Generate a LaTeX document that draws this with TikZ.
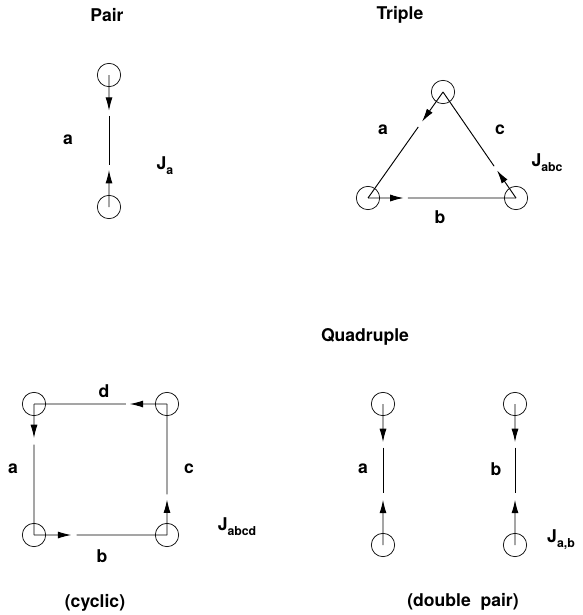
\documentclass[tikz,border=0pt]{standalone}
\usepackage{fontspec}
\setmainfont{TeX Gyre Heros}
\usepackage{tikz}
\usetikzlibrary{calc,arrows.meta}
\newcommand{\sublbl}[1]{\raisebox{-0.5ex}{\fontsize{10.5}{12}\selectfont #1}}
\tikzset{
  site/.style={circle, draw, line width=0.6pt, minimum size=0.70cm, inner sep=0pt},
  flowarrow/.style={-{Latex[length=4mm,width=2.1mm]}, line width=0.8pt},
  bondline/.style={line width=0.8pt},
  termlabel/.style={font=\fontsize{15}{17}\selectfont\bfseries, inner sep=1pt},
}
\begin{document}
\begin{tikzpicture}[x=0.03cm,y=-0.03cm]
  \useasboundingbox (0,0) rectangle (582,615);

  % --- pair ---
  \node[termlabel] (ttlpair) at (107,15) {Pair};
  \node[site] (pt) at (109,75) {};
  \node[site] (pb) at (109,207) {};
  \draw[flowarrow] (pt.center) -- ($(pt.center)!0.27!(pb.center)$);
  \draw[bondline] ($(pt.center)!0.31!(pb.center)$) -- ($(pt.center)!0.68!(pb.center)$);
  \draw[flowarrow] (pb.center) -- ($(pt.center)!0.72!(pb.center)$);
  \node[termlabel] (pa) at (68,140) {a};
  \node[termlabel] (pj) at (165,166) {J\sublbl{a}};

  % --- triple ---
  \node[termlabel] (ttltri) at (400,15) {Triple};
  \node[site] (tt) at (443,92) {};
  \node[site] (tl) at (368,198) {};
  \node[site] (tr) at (516,198) {};
  \draw[flowarrow] (tt.center) -- ($(tt.center)!0.28!(tl.center)$);
  \draw[bondline] ($(tt.center)!0.33!(tl.center)$) -- (tl.center);
  \draw[flowarrow] (tl.center) -- ($(tl.center)!0.24!(tr.center)$);
  \draw[bondline] ($(tl.center)!0.27!(tr.center)$) -- (tr.center);
  \draw[flowarrow] (tr.center) -- ($(tr.center)!0.26!(tt.center)$);
  \draw[bondline] ($(tr.center)!0.30!(tt.center)$) -- (tt.center);
  \node[termlabel] (ta) at (383,130) {a};
  \node[termlabel] (tb) at (440,217) {b};
  \node[termlabel] (tc) at (500,130) {c};
  \node[termlabel] (tj) at (547,163) {J\sublbl{abc}};

  % --- quadruple (cyclic) ---
  \node[termlabel] (ttlquad) at (365,337) {Quadruple};
  \node[site] (qtl) at (34,404) {};
  \node[site] (qtr) at (167,404) {};
  \node[site] (qbl) at (34,535) {};
  \node[site] (qbr) at (167,535) {};
  \draw[flowarrow] (qtl.center) -- ($(qtl.center)!0.26!(qbl.center)$);
  \draw[bondline] ($(qtl.center)!0.31!(qbl.center)$) -- (qbl.center);
  \draw[flowarrow] (qbl.center) -- ($(qbl.center)!0.28!(qbr.center)$);
  \draw[bondline] ($(qbl.center)!0.32!(qbr.center)$) -- (qbr.center);
  \draw[flowarrow] (qbr.center) -- ($(qbr.center)!0.27!(qtr.center)$);
  \draw[bondline] ($(qbr.center)!0.31!(qtr.center)$) -- (qtr.center);
  \draw[flowarrow] (qtr.center) -- ($(qtr.center)!0.28!(qtl.center)$);
  \draw[bondline] ($(qtr.center)!0.31!(qtl.center)$) -- (qtl.center);
  \node[termlabel] (qd) at (104,391) {d};
  \node[termlabel] (qa) at (13,469) {a};
  \node[termlabel] (qc) at (189,469) {c};
  \node[termlabel] (qb) at (102,556) {b};
  \node[termlabel] (qj) at (237,527) {J\sublbl{abcd}};
  \node[termlabel] (qcyc) at (95,603) {(cyclic)};

  % --- double pair ---
  \node[site] (dlt) at (383,404) {};
  \node[site] (dlb) at (383,545) {};
  \node[site] (drt) at (515,404) {};
  \node[site] (drb) at (515,545) {};
  \draw[flowarrow] (dlt.center) -- ($(dlt.center)!0.27!(dlb.center)$);
  \draw[bondline] ($(dlt.center)!0.31!(dlb.center)$) -- ($(dlt.center)!0.63!(dlb.center)$);
  \draw[flowarrow] (dlb.center) -- ($(dlt.center)!0.68!(dlb.center)$);
  \draw[flowarrow] (drt.center) -- ($(drt.center)!0.27!(drb.center)$);
  \draw[bondline] ($(drt.center)!0.31!(drb.center)$) -- ($(drt.center)!0.63!(drb.center)$);
  \draw[flowarrow] (drb.center) -- ($(drt.center)!0.68!(drb.center)$);
  \node[termlabel] (da) at (363,469) {a};
  \node[termlabel] (db) at (496,469) {b};
  \node[termlabel] (dj) at (561,540) {J\sublbl{a,b}};
  \node[termlabel] (ddbl) at (463,602) {(double\ \ pair)};
\end{tikzpicture}
\end{document}
